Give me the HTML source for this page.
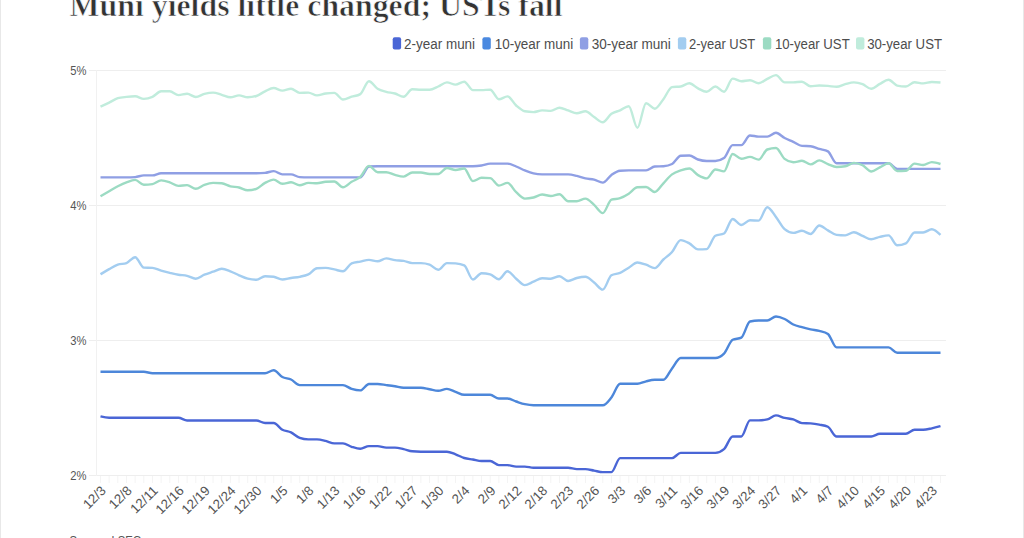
<!DOCTYPE html>
<html><head><meta charset="utf-8"><style>
html,body{margin:0;padding:0;background:#fff;width:1024px;height:538px;overflow:hidden}
svg{position:absolute;left:0;top:0;font-family:"Liberation Sans",sans-serif}
.title{font-family:"Liberation Serif",serif;font-weight:bold}
</style></head><body>
<svg width="1024" height="538" viewBox="0 0 1024 538">
<rect x="0" y="0" width="1024" height="538" fill="#fff"/>
<line x1="0.5" y1="0" x2="0.5" y2="538" stroke="#e8e8e8" stroke-width="1"/>
<line x1="1023.5" y1="0" x2="1023.5" y2="538" stroke="#e8e8e8" stroke-width="1"/>
<text class="title" x="69.5" y="15.6" font-size="32" fill="#333" stroke="#fff" stroke-width="0.7" textLength="493" lengthAdjust="spacingAndGlyphs">Muni yields little changed; USTs fall</text>
<rect x="392.7" y="37.3" width="8.4" height="12.2" rx="2" fill="#4a66d6"/><text x="404.1" y="48.6" font-size="14" fill="#4d4d4d" textLength="71.0" lengthAdjust="spacingAndGlyphs">2-year muni</text>
<rect x="482.4" y="37.3" width="8.4" height="12.2" rx="2" fill="#4a89e0"/><text x="494.7" y="48.6" font-size="14" fill="#4d4d4d" textLength="78.5" lengthAdjust="spacingAndGlyphs">10-year muni</text>
<rect x="579.9" y="37.3" width="8.4" height="12.2" rx="2" fill="#8f9fe4"/><text x="591.7" y="48.6" font-size="14" fill="#4d4d4d" textLength="79.1" lengthAdjust="spacingAndGlyphs">30-year muni</text>
<rect x="677.9" y="37.3" width="8.4" height="12.2" rx="2" fill="#a3cdf0"/><text x="689.0" y="48.6" font-size="14" fill="#4d4d4d" textLength="66.2" lengthAdjust="spacingAndGlyphs">2-year UST</text>
<rect x="762.9" y="37.3" width="8.4" height="12.2" rx="2" fill="#9cdbc3"/><text x="774.9" y="48.6" font-size="14" fill="#4d4d4d" textLength="74.8" lengthAdjust="spacingAndGlyphs">10-year UST</text>
<rect x="856" y="37.3" width="8.4" height="12.2" rx="2" fill="#c0ecdc"/><text x="867.2" y="48.6" font-size="14" fill="#4d4d4d" textLength="74.8" lengthAdjust="spacingAndGlyphs">30-year UST</text>
<line x1="89" y1="70.5" x2="946" y2="70.5" stroke="#eeeeee" stroke-width="1"/>
<text x="70.3" y="75.1" font-size="12.8" fill="#555" textLength="16.2" lengthAdjust="spacingAndGlyphs">5%</text>
<line x1="89" y1="205.5" x2="946" y2="205.5" stroke="#eeeeee" stroke-width="1"/>
<text x="70.3" y="210.1" font-size="12.8" fill="#555" textLength="16.2" lengthAdjust="spacingAndGlyphs">4%</text>
<line x1="89" y1="340.5" x2="946" y2="340.5" stroke="#eeeeee" stroke-width="1"/>
<text x="70.3" y="345.1" font-size="12.8" fill="#555" textLength="16.2" lengthAdjust="spacingAndGlyphs">3%</text>
<line x1="89" y1="475.5" x2="946" y2="475.5" stroke="#eeeeee" stroke-width="1"/>
<text x="70.3" y="480.1" font-size="12.8" fill="#555" textLength="16.2" lengthAdjust="spacingAndGlyphs">2%</text>
<line x1="96.5" y1="70" x2="96.5" y2="476" stroke="#f1f1f1" stroke-width="1"/>
<line x1="100.50" y1="476" x2="100.50" y2="483" stroke="#f4f4f4" stroke-width="1"/>
<line x1="109.16" y1="476" x2="109.16" y2="483" stroke="#f4f4f4" stroke-width="1"/>
<line x1="117.82" y1="476" x2="117.82" y2="483" stroke="#f4f4f4" stroke-width="1"/>
<line x1="126.48" y1="476" x2="126.48" y2="483" stroke="#f4f4f4" stroke-width="1"/>
<line x1="135.14" y1="476" x2="135.14" y2="483" stroke="#f4f4f4" stroke-width="1"/>
<line x1="143.80" y1="476" x2="143.80" y2="483" stroke="#f4f4f4" stroke-width="1"/>
<line x1="152.46" y1="476" x2="152.46" y2="483" stroke="#f4f4f4" stroke-width="1"/>
<line x1="161.12" y1="476" x2="161.12" y2="483" stroke="#f4f4f4" stroke-width="1"/>
<line x1="169.78" y1="476" x2="169.78" y2="483" stroke="#f4f4f4" stroke-width="1"/>
<line x1="178.44" y1="476" x2="178.44" y2="483" stroke="#f4f4f4" stroke-width="1"/>
<line x1="187.10" y1="476" x2="187.10" y2="483" stroke="#f4f4f4" stroke-width="1"/>
<line x1="195.76" y1="476" x2="195.76" y2="483" stroke="#f4f4f4" stroke-width="1"/>
<line x1="204.42" y1="476" x2="204.42" y2="483" stroke="#f4f4f4" stroke-width="1"/>
<line x1="213.08" y1="476" x2="213.08" y2="483" stroke="#f4f4f4" stroke-width="1"/>
<line x1="221.74" y1="476" x2="221.74" y2="483" stroke="#f4f4f4" stroke-width="1"/>
<line x1="230.40" y1="476" x2="230.40" y2="483" stroke="#f4f4f4" stroke-width="1"/>
<line x1="239.06" y1="476" x2="239.06" y2="483" stroke="#f4f4f4" stroke-width="1"/>
<line x1="247.72" y1="476" x2="247.72" y2="483" stroke="#f4f4f4" stroke-width="1"/>
<line x1="256.38" y1="476" x2="256.38" y2="483" stroke="#f4f4f4" stroke-width="1"/>
<line x1="265.04" y1="476" x2="265.04" y2="483" stroke="#f4f4f4" stroke-width="1"/>
<line x1="273.70" y1="476" x2="273.70" y2="483" stroke="#f4f4f4" stroke-width="1"/>
<line x1="282.36" y1="476" x2="282.36" y2="483" stroke="#f4f4f4" stroke-width="1"/>
<line x1="291.02" y1="476" x2="291.02" y2="483" stroke="#f4f4f4" stroke-width="1"/>
<line x1="299.68" y1="476" x2="299.68" y2="483" stroke="#f4f4f4" stroke-width="1"/>
<line x1="308.34" y1="476" x2="308.34" y2="483" stroke="#f4f4f4" stroke-width="1"/>
<line x1="316.99" y1="476" x2="316.99" y2="483" stroke="#f4f4f4" stroke-width="1"/>
<line x1="325.65" y1="476" x2="325.65" y2="483" stroke="#f4f4f4" stroke-width="1"/>
<line x1="334.31" y1="476" x2="334.31" y2="483" stroke="#f4f4f4" stroke-width="1"/>
<line x1="342.97" y1="476" x2="342.97" y2="483" stroke="#f4f4f4" stroke-width="1"/>
<line x1="351.63" y1="476" x2="351.63" y2="483" stroke="#f4f4f4" stroke-width="1"/>
<line x1="360.29" y1="476" x2="360.29" y2="483" stroke="#f4f4f4" stroke-width="1"/>
<line x1="368.95" y1="476" x2="368.95" y2="483" stroke="#f4f4f4" stroke-width="1"/>
<line x1="377.61" y1="476" x2="377.61" y2="483" stroke="#f4f4f4" stroke-width="1"/>
<line x1="386.27" y1="476" x2="386.27" y2="483" stroke="#f4f4f4" stroke-width="1"/>
<line x1="394.93" y1="476" x2="394.93" y2="483" stroke="#f4f4f4" stroke-width="1"/>
<line x1="403.59" y1="476" x2="403.59" y2="483" stroke="#f4f4f4" stroke-width="1"/>
<line x1="412.25" y1="476" x2="412.25" y2="483" stroke="#f4f4f4" stroke-width="1"/>
<line x1="420.91" y1="476" x2="420.91" y2="483" stroke="#f4f4f4" stroke-width="1"/>
<line x1="429.57" y1="476" x2="429.57" y2="483" stroke="#f4f4f4" stroke-width="1"/>
<line x1="438.23" y1="476" x2="438.23" y2="483" stroke="#f4f4f4" stroke-width="1"/>
<line x1="446.89" y1="476" x2="446.89" y2="483" stroke="#f4f4f4" stroke-width="1"/>
<line x1="455.55" y1="476" x2="455.55" y2="483" stroke="#f4f4f4" stroke-width="1"/>
<line x1="464.21" y1="476" x2="464.21" y2="483" stroke="#f4f4f4" stroke-width="1"/>
<line x1="472.87" y1="476" x2="472.87" y2="483" stroke="#f4f4f4" stroke-width="1"/>
<line x1="481.53" y1="476" x2="481.53" y2="483" stroke="#f4f4f4" stroke-width="1"/>
<line x1="490.19" y1="476" x2="490.19" y2="483" stroke="#f4f4f4" stroke-width="1"/>
<line x1="498.85" y1="476" x2="498.85" y2="483" stroke="#f4f4f4" stroke-width="1"/>
<line x1="507.51" y1="476" x2="507.51" y2="483" stroke="#f4f4f4" stroke-width="1"/>
<line x1="516.17" y1="476" x2="516.17" y2="483" stroke="#f4f4f4" stroke-width="1"/>
<line x1="524.83" y1="476" x2="524.83" y2="483" stroke="#f4f4f4" stroke-width="1"/>
<line x1="533.49" y1="476" x2="533.49" y2="483" stroke="#f4f4f4" stroke-width="1"/>
<line x1="542.15" y1="476" x2="542.15" y2="483" stroke="#f4f4f4" stroke-width="1"/>
<line x1="550.81" y1="476" x2="550.81" y2="483" stroke="#f4f4f4" stroke-width="1"/>
<line x1="559.47" y1="476" x2="559.47" y2="483" stroke="#f4f4f4" stroke-width="1"/>
<line x1="568.13" y1="476" x2="568.13" y2="483" stroke="#f4f4f4" stroke-width="1"/>
<line x1="576.79" y1="476" x2="576.79" y2="483" stroke="#f4f4f4" stroke-width="1"/>
<line x1="585.45" y1="476" x2="585.45" y2="483" stroke="#f4f4f4" stroke-width="1"/>
<line x1="594.11" y1="476" x2="594.11" y2="483" stroke="#f4f4f4" stroke-width="1"/>
<line x1="602.77" y1="476" x2="602.77" y2="483" stroke="#f4f4f4" stroke-width="1"/>
<line x1="611.43" y1="476" x2="611.43" y2="483" stroke="#f4f4f4" stroke-width="1"/>
<line x1="620.09" y1="476" x2="620.09" y2="483" stroke="#f4f4f4" stroke-width="1"/>
<line x1="628.75" y1="476" x2="628.75" y2="483" stroke="#f4f4f4" stroke-width="1"/>
<line x1="637.41" y1="476" x2="637.41" y2="483" stroke="#f4f4f4" stroke-width="1"/>
<line x1="646.07" y1="476" x2="646.07" y2="483" stroke="#f4f4f4" stroke-width="1"/>
<line x1="654.73" y1="476" x2="654.73" y2="483" stroke="#f4f4f4" stroke-width="1"/>
<line x1="663.39" y1="476" x2="663.39" y2="483" stroke="#f4f4f4" stroke-width="1"/>
<line x1="672.05" y1="476" x2="672.05" y2="483" stroke="#f4f4f4" stroke-width="1"/>
<line x1="680.71" y1="476" x2="680.71" y2="483" stroke="#f4f4f4" stroke-width="1"/>
<line x1="689.37" y1="476" x2="689.37" y2="483" stroke="#f4f4f4" stroke-width="1"/>
<line x1="698.03" y1="476" x2="698.03" y2="483" stroke="#f4f4f4" stroke-width="1"/>
<line x1="706.69" y1="476" x2="706.69" y2="483" stroke="#f4f4f4" stroke-width="1"/>
<line x1="715.35" y1="476" x2="715.35" y2="483" stroke="#f4f4f4" stroke-width="1"/>
<line x1="724.01" y1="476" x2="724.01" y2="483" stroke="#f4f4f4" stroke-width="1"/>
<line x1="732.66" y1="476" x2="732.66" y2="483" stroke="#f4f4f4" stroke-width="1"/>
<line x1="741.32" y1="476" x2="741.32" y2="483" stroke="#f4f4f4" stroke-width="1"/>
<line x1="749.98" y1="476" x2="749.98" y2="483" stroke="#f4f4f4" stroke-width="1"/>
<line x1="758.64" y1="476" x2="758.64" y2="483" stroke="#f4f4f4" stroke-width="1"/>
<line x1="767.30" y1="476" x2="767.30" y2="483" stroke="#f4f4f4" stroke-width="1"/>
<line x1="775.96" y1="476" x2="775.96" y2="483" stroke="#f4f4f4" stroke-width="1"/>
<line x1="784.62" y1="476" x2="784.62" y2="483" stroke="#f4f4f4" stroke-width="1"/>
<line x1="793.28" y1="476" x2="793.28" y2="483" stroke="#f4f4f4" stroke-width="1"/>
<line x1="801.94" y1="476" x2="801.94" y2="483" stroke="#f4f4f4" stroke-width="1"/>
<line x1="810.60" y1="476" x2="810.60" y2="483" stroke="#f4f4f4" stroke-width="1"/>
<line x1="819.26" y1="476" x2="819.26" y2="483" stroke="#f4f4f4" stroke-width="1"/>
<line x1="827.92" y1="476" x2="827.92" y2="483" stroke="#f4f4f4" stroke-width="1"/>
<line x1="836.58" y1="476" x2="836.58" y2="483" stroke="#f4f4f4" stroke-width="1"/>
<line x1="845.24" y1="476" x2="845.24" y2="483" stroke="#f4f4f4" stroke-width="1"/>
<line x1="853.90" y1="476" x2="853.90" y2="483" stroke="#f4f4f4" stroke-width="1"/>
<line x1="862.56" y1="476" x2="862.56" y2="483" stroke="#f4f4f4" stroke-width="1"/>
<line x1="871.22" y1="476" x2="871.22" y2="483" stroke="#f4f4f4" stroke-width="1"/>
<line x1="879.88" y1="476" x2="879.88" y2="483" stroke="#f4f4f4" stroke-width="1"/>
<line x1="888.54" y1="476" x2="888.54" y2="483" stroke="#f4f4f4" stroke-width="1"/>
<line x1="897.20" y1="476" x2="897.20" y2="483" stroke="#f4f4f4" stroke-width="1"/>
<line x1="905.86" y1="476" x2="905.86" y2="483" stroke="#f4f4f4" stroke-width="1"/>
<line x1="914.52" y1="476" x2="914.52" y2="483" stroke="#f4f4f4" stroke-width="1"/>
<line x1="923.18" y1="476" x2="923.18" y2="483" stroke="#f4f4f4" stroke-width="1"/>
<line x1="931.84" y1="476" x2="931.84" y2="483" stroke="#f4f4f4" stroke-width="1"/>
<line x1="940.50" y1="476" x2="940.50" y2="483" stroke="#f4f4f4" stroke-width="1"/>
<text transform="translate(106.70,491.5) rotate(-45)" text-anchor="end" font-size="13.3" fill="#555">12/3</text>
<text transform="translate(132.68,491.5) rotate(-45)" text-anchor="end" font-size="13.3" fill="#555">12/8</text>
<text transform="translate(158.66,491.5) rotate(-45)" text-anchor="end" font-size="13.3" fill="#555">12/11</text>
<text transform="translate(184.64,491.5) rotate(-45)" text-anchor="end" font-size="13.3" fill="#555">12/16</text>
<text transform="translate(210.62,491.5) rotate(-45)" text-anchor="end" font-size="13.3" fill="#555">12/19</text>
<text transform="translate(236.60,491.5) rotate(-45)" text-anchor="end" font-size="13.3" fill="#555">12/24</text>
<text transform="translate(262.58,491.5) rotate(-45)" text-anchor="end" font-size="13.3" fill="#555">12/30</text>
<text transform="translate(288.56,491.5) rotate(-45)" text-anchor="end" font-size="13.3" fill="#555">1/5</text>
<text transform="translate(314.54,491.5) rotate(-45)" text-anchor="end" font-size="13.3" fill="#555">1/8</text>
<text transform="translate(340.51,491.5) rotate(-45)" text-anchor="end" font-size="13.3" fill="#555">1/13</text>
<text transform="translate(366.49,491.5) rotate(-45)" text-anchor="end" font-size="13.3" fill="#555">1/16</text>
<text transform="translate(392.47,491.5) rotate(-45)" text-anchor="end" font-size="13.3" fill="#555">1/22</text>
<text transform="translate(418.45,491.5) rotate(-45)" text-anchor="end" font-size="13.3" fill="#555">1/27</text>
<text transform="translate(444.43,491.5) rotate(-45)" text-anchor="end" font-size="13.3" fill="#555">1/30</text>
<text transform="translate(470.41,491.5) rotate(-45)" text-anchor="end" font-size="13.3" fill="#555">2/4</text>
<text transform="translate(496.39,491.5) rotate(-45)" text-anchor="end" font-size="13.3" fill="#555">2/9</text>
<text transform="translate(522.37,491.5) rotate(-45)" text-anchor="end" font-size="13.3" fill="#555">2/12</text>
<text transform="translate(548.35,491.5) rotate(-45)" text-anchor="end" font-size="13.3" fill="#555">2/18</text>
<text transform="translate(574.33,491.5) rotate(-45)" text-anchor="end" font-size="13.3" fill="#555">2/23</text>
<text transform="translate(600.31,491.5) rotate(-45)" text-anchor="end" font-size="13.3" fill="#555">2/26</text>
<text transform="translate(626.29,491.5) rotate(-45)" text-anchor="end" font-size="13.3" fill="#555">3/3</text>
<text transform="translate(652.27,491.5) rotate(-45)" text-anchor="end" font-size="13.3" fill="#555">3/6</text>
<text transform="translate(678.25,491.5) rotate(-45)" text-anchor="end" font-size="13.3" fill="#555">3/11</text>
<text transform="translate(704.23,491.5) rotate(-45)" text-anchor="end" font-size="13.3" fill="#555">3/16</text>
<text transform="translate(730.21,491.5) rotate(-45)" text-anchor="end" font-size="13.3" fill="#555">3/19</text>
<text transform="translate(756.18,491.5) rotate(-45)" text-anchor="end" font-size="13.3" fill="#555">3/24</text>
<text transform="translate(782.16,491.5) rotate(-45)" text-anchor="end" font-size="13.3" fill="#555">3/27</text>
<text transform="translate(808.14,491.5) rotate(-45)" text-anchor="end" font-size="13.3" fill="#555">4/1</text>
<text transform="translate(834.12,491.5) rotate(-45)" text-anchor="end" font-size="13.3" fill="#555">4/7</text>
<text transform="translate(860.10,491.5) rotate(-45)" text-anchor="end" font-size="13.3" fill="#555">4/10</text>
<text transform="translate(886.08,491.5) rotate(-45)" text-anchor="end" font-size="13.3" fill="#555">4/15</text>
<text transform="translate(912.06,491.5) rotate(-45)" text-anchor="end" font-size="13.3" fill="#555">4/20</text>
<text transform="translate(938.04,491.5) rotate(-45)" text-anchor="end" font-size="13.3" fill="#555">4/23</text>
<path d="M100.50,416.40C103.39,417.10,106.27,417.80,109.16,417.80C112.05,417.80,114.93,417.80,117.82,417.80C120.71,417.80,123.59,417.80,126.48,417.80C129.37,417.80,132.25,417.80,135.14,417.80C138.03,417.80,140.91,417.80,143.80,417.80C146.69,417.80,149.57,417.80,152.46,417.80C155.35,417.80,158.23,417.80,161.12,417.80C164.01,417.80,166.89,417.80,169.78,417.80C172.66,417.80,175.55,417.80,178.44,417.80C181.32,417.80,184.21,420.50,187.10,420.50C189.98,420.50,192.87,420.50,195.76,420.50C198.64,420.50,201.53,420.50,204.42,420.50C207.30,420.50,210.19,420.50,213.08,420.50C215.96,420.50,218.85,420.50,221.74,420.50C224.62,420.50,227.51,420.50,230.40,420.50C233.28,420.50,236.17,420.50,239.06,420.50C241.94,420.50,244.83,420.50,247.72,420.50C250.60,420.50,253.49,420.50,256.38,420.50C259.26,420.50,262.15,423.00,265.04,423.00C267.92,423.00,270.81,423.00,273.70,423.00C276.58,423.00,279.47,428.13,282.36,429.70C285.24,431.27,288.13,431.03,291.02,432.40C293.90,433.77,296.79,436.90,299.68,437.90C302.56,438.90,305.45,439.40,308.34,439.40C311.22,439.40,314.11,439.40,316.99,439.40C319.88,439.40,322.77,440.23,325.65,440.90C328.54,441.57,331.43,443.40,334.31,443.40C337.20,443.40,340.09,443.40,342.97,443.40C345.86,443.40,348.75,445.90,351.63,446.80C354.52,447.70,357.41,448.80,360.29,448.80C363.18,448.80,366.07,446.10,368.95,446.10C371.84,446.10,374.73,446.10,377.61,446.10C380.50,446.10,383.39,447.60,386.27,447.60C389.16,447.60,392.05,447.60,394.93,447.60C397.82,447.60,400.71,448.48,403.59,449.10C406.48,449.72,409.37,451.03,412.25,451.30C415.14,451.57,418.03,451.70,420.91,451.70C423.80,451.70,426.69,451.70,429.57,451.70C432.46,451.70,435.35,451.70,438.23,451.70C441.12,451.70,444.01,451.70,446.89,451.70C449.78,451.70,452.66,453.25,455.55,454.30C458.44,455.35,461.32,457.13,464.21,458.00C467.10,458.87,469.98,459.00,472.87,459.50C475.76,460.00,478.64,461.00,481.53,461.00C484.42,461.00,487.30,461.00,490.19,461.00C493.08,461.00,495.96,465.10,498.85,465.10C501.74,465.10,504.62,465.10,507.51,465.10C510.40,465.10,513.28,466.60,516.17,466.60C519.06,466.60,521.94,466.60,524.83,466.60C527.72,466.60,530.60,467.70,533.49,467.70C536.38,467.70,539.26,467.70,542.15,467.70C545.04,467.70,547.92,467.70,550.81,467.70C553.70,467.70,556.58,467.70,559.47,467.70C562.36,467.70,565.24,467.70,568.13,467.70C571.02,467.70,573.90,469.10,576.79,469.10C579.68,469.10,582.56,469.10,585.45,469.10C588.34,469.10,591.22,470.10,594.11,470.60C596.99,471.10,599.88,472.10,602.77,472.10C605.65,472.10,608.54,472.10,611.43,472.10C614.31,472.10,617.20,458.10,620.09,458.10C622.97,458.10,625.86,458.10,628.75,458.10C631.63,458.10,634.52,458.10,637.41,458.10C640.29,458.10,643.18,458.10,646.07,458.10C648.95,458.10,651.84,458.10,654.73,458.10C657.61,458.10,660.50,458.10,663.39,458.10C666.27,458.10,669.16,458.10,672.05,458.10C674.93,458.10,677.82,452.90,680.71,452.90C683.59,452.90,686.48,452.90,689.37,452.90C692.25,452.90,695.14,452.90,698.03,452.90C700.91,452.90,703.80,452.90,706.69,452.90C709.57,452.90,712.46,452.90,715.35,452.90C718.23,452.90,721.12,451.63,724.01,449.10C726.89,446.57,729.78,436.50,732.66,436.50C735.55,436.50,738.44,436.50,741.32,436.50C744.21,436.50,747.10,420.40,749.98,420.40C752.87,420.40,755.76,420.40,758.64,420.40C761.53,420.40,764.42,420.07,767.30,419.40C770.19,418.73,773.08,415.40,775.96,415.40C778.85,415.40,781.74,417.23,784.62,417.90C787.51,418.57,790.40,418.53,793.28,419.40C796.17,420.27,799.06,422.90,801.94,423.10C804.83,423.30,807.72,423.20,810.60,423.40C813.49,423.60,816.38,424.03,819.26,424.60C822.15,425.17,825.04,425.33,827.92,426.80C830.81,428.27,833.70,436.50,836.58,436.50C839.47,436.50,842.36,436.50,845.24,436.50C848.13,436.50,851.02,436.50,853.90,436.50C856.79,436.50,859.68,436.50,862.56,436.50C865.45,436.50,868.34,436.50,871.22,436.50C874.11,436.50,876.99,433.80,879.88,433.80C882.77,433.80,885.65,433.80,888.54,433.80C891.43,433.80,894.31,433.80,897.20,433.80C900.09,433.80,902.97,433.80,905.86,433.80C908.75,433.80,911.63,429.80,914.52,429.80C917.41,429.80,920.29,429.80,923.18,429.80C926.07,429.80,928.95,428.92,931.84,428.30C934.73,427.68,937.61,426.89,940.50,426.10" fill="none" stroke="#4a66d6" stroke-width="2.4" stroke-linejoin="round" stroke-linecap="butt"/>
<path d="M100.50,371.80C103.39,371.80,106.27,371.80,109.16,371.80C112.05,371.80,114.93,371.80,117.82,371.80C120.71,371.80,123.59,371.80,126.48,371.80C129.37,371.80,132.25,371.80,135.14,371.80C138.03,371.80,140.91,371.80,143.80,371.80C146.69,371.80,149.57,373.20,152.46,373.20C155.35,373.20,158.23,373.20,161.12,373.20C164.01,373.20,166.89,373.20,169.78,373.20C172.66,373.20,175.55,373.20,178.44,373.20C181.32,373.20,184.21,373.20,187.10,373.20C189.98,373.20,192.87,373.20,195.76,373.20C198.64,373.20,201.53,373.20,204.42,373.20C207.30,373.20,210.19,373.20,213.08,373.20C215.96,373.20,218.85,373.20,221.74,373.20C224.62,373.20,227.51,373.20,230.40,373.20C233.28,373.20,236.17,373.20,239.06,373.20C241.94,373.20,244.83,373.20,247.72,373.20C250.60,373.20,253.49,373.20,256.38,373.20C259.26,373.20,262.15,373.20,265.04,373.20C267.92,373.20,270.81,370.30,273.70,370.30C276.58,370.30,279.47,375.47,282.36,377.00C285.24,378.53,288.13,378.15,291.02,379.50C293.90,380.85,296.79,385.10,299.68,385.10C302.56,385.10,305.45,385.10,308.34,385.10C311.22,385.10,314.11,385.10,316.99,385.10C319.88,385.10,322.77,385.10,325.65,385.10C328.54,385.10,331.43,385.10,334.31,385.10C337.20,385.10,340.09,385.10,342.97,385.10C345.86,385.10,348.75,388.02,351.63,388.90C354.52,389.78,357.41,390.40,360.29,390.40C363.18,390.40,366.07,384.00,368.95,384.00C371.84,384.00,374.73,384.00,377.61,384.00C380.50,384.00,383.39,384.72,386.27,385.10C389.16,385.48,392.05,385.85,394.93,386.30C397.82,386.75,400.71,387.80,403.59,387.80C406.48,387.80,409.37,387.80,412.25,387.80C415.14,387.80,418.03,387.80,420.91,387.80C423.80,387.80,426.69,388.80,429.57,389.30C432.46,389.80,435.35,390.80,438.23,390.80C441.12,390.80,444.01,388.90,446.89,388.90C449.78,388.90,452.66,390.82,455.55,391.80C458.44,392.78,461.32,394.80,464.21,394.80C467.10,394.80,469.98,394.80,472.87,394.80C475.76,394.80,478.64,394.80,481.53,394.80C484.42,394.80,487.30,394.80,490.19,394.80C493.08,394.80,495.96,398.50,498.85,398.50C501.74,398.50,504.62,398.50,507.51,398.50C510.40,398.50,513.28,400.55,516.17,401.50C519.06,402.45,521.94,403.57,524.83,404.20C527.72,404.83,530.60,405.30,533.49,405.30C536.38,405.30,539.26,405.30,542.15,405.30C545.04,405.30,547.92,405.30,550.81,405.30C553.70,405.30,556.58,405.30,559.47,405.30C562.36,405.30,565.24,405.30,568.13,405.30C571.02,405.30,573.90,405.30,576.79,405.30C579.68,405.30,582.56,405.30,585.45,405.30C588.34,405.30,591.22,405.30,594.11,405.30C596.99,405.30,599.88,405.30,602.77,405.30C605.65,405.30,608.54,401.08,611.43,397.50C614.31,393.92,617.20,383.80,620.09,383.80C622.97,383.80,625.86,383.80,628.75,383.80C631.63,383.80,634.52,383.80,637.41,383.80C640.29,383.80,643.18,381.97,646.07,381.30C648.95,380.63,651.84,379.80,654.73,379.80C657.61,379.80,660.50,379.80,663.39,379.80C666.27,379.80,669.16,372.03,672.05,368.40C674.93,364.77,677.82,358.00,680.71,358.00C683.59,358.00,686.48,358.00,689.37,358.00C692.25,358.00,695.14,358.00,698.03,358.00C700.91,358.00,703.80,358.00,706.69,358.00C709.57,358.00,712.46,358.00,715.35,358.00C718.23,358.00,721.12,356.53,724.01,353.60C726.89,350.67,729.78,341.27,732.66,339.80C735.55,338.33,738.44,339.07,741.32,337.60C744.21,336.13,747.10,322.17,749.98,321.50C752.87,320.83,755.76,320.50,758.64,320.50C761.53,320.50,764.42,320.50,767.30,320.50C770.19,320.50,773.08,316.50,775.96,316.50C778.85,316.50,781.74,317.67,784.62,319.00C787.51,320.33,790.40,323.13,793.28,324.50C796.17,325.87,799.06,326.38,801.94,327.20C804.83,328.02,807.72,328.78,810.60,329.40C813.49,330.02,816.38,330.15,819.26,330.90C822.15,331.65,825.04,331.90,827.92,333.90C830.81,335.90,833.70,347.40,836.58,347.40C839.47,347.40,842.36,347.40,845.24,347.40C848.13,347.40,851.02,347.40,853.90,347.40C856.79,347.40,859.68,347.40,862.56,347.40C865.45,347.40,868.34,347.40,871.22,347.40C874.11,347.40,876.99,347.40,879.88,347.40C882.77,347.40,885.65,347.40,888.54,347.40C891.43,347.40,894.31,352.80,897.20,352.80C900.09,352.80,902.97,352.80,905.86,352.80C908.75,352.80,911.63,352.80,914.52,352.80C917.41,352.80,920.29,352.80,923.18,352.80C926.07,352.80,928.95,352.80,931.84,352.80C934.73,352.80,937.61,352.80,940.50,352.80" fill="none" stroke="#4d87da" stroke-width="2.4" stroke-linejoin="round" stroke-linecap="butt"/>
<path d="M100.50,177.40C103.39,177.40,106.27,177.40,109.16,177.40C112.05,177.40,114.93,177.40,117.82,177.40C120.71,177.40,123.59,177.40,126.48,177.40C129.37,177.40,132.25,177.30,135.14,177.10C138.03,176.90,140.91,175.40,143.80,175.40C146.69,175.40,149.57,175.40,152.46,175.40C155.35,175.40,158.23,173.20,161.12,173.20C164.01,173.20,166.89,173.20,169.78,173.20C172.66,173.20,175.55,173.20,178.44,173.20C181.32,173.20,184.21,173.20,187.10,173.20C189.98,173.20,192.87,173.20,195.76,173.20C198.64,173.20,201.53,173.20,204.42,173.20C207.30,173.20,210.19,173.20,213.08,173.20C215.96,173.20,218.85,173.20,221.74,173.20C224.62,173.20,227.51,173.20,230.40,173.20C233.28,173.20,236.17,173.20,239.06,173.20C241.94,173.20,244.83,173.20,247.72,173.20C250.60,173.20,253.49,173.20,256.38,173.20C259.26,173.20,262.15,173.10,265.04,172.90C267.92,172.70,270.81,171.10,273.70,171.10C276.58,171.10,279.47,174.40,282.36,174.40C285.24,174.40,288.13,174.40,291.02,174.40C293.90,174.40,296.79,176.90,299.68,177.10C302.56,177.30,305.45,177.40,308.34,177.40C311.22,177.40,314.11,177.40,316.99,177.40C319.88,177.40,322.77,177.40,325.65,177.40C328.54,177.40,331.43,177.40,334.31,177.40C337.20,177.40,340.09,177.40,342.97,177.40C345.86,177.40,348.75,177.40,351.63,177.40C354.52,177.40,357.41,177.40,360.29,177.40C363.18,177.40,366.07,166.70,368.95,166.50C371.84,166.30,374.73,166.20,377.61,166.20C380.50,166.20,383.39,166.20,386.27,166.20C389.16,166.20,392.05,166.20,394.93,166.20C397.82,166.20,400.71,166.20,403.59,166.20C406.48,166.20,409.37,166.20,412.25,166.20C415.14,166.20,418.03,166.20,420.91,166.20C423.80,166.20,426.69,166.20,429.57,166.20C432.46,166.20,435.35,166.20,438.23,166.20C441.12,166.20,444.01,166.20,446.89,166.20C449.78,166.20,452.66,166.20,455.55,166.20C458.44,166.20,461.32,166.20,464.21,166.20C467.10,166.20,469.98,166.20,472.87,166.20C475.76,166.20,478.64,165.93,481.53,165.50C484.42,165.07,487.30,163.60,490.19,163.60C493.08,163.60,495.96,163.60,498.85,163.60C501.74,163.60,504.62,163.60,507.51,163.60C510.40,163.60,513.28,165.37,516.17,166.50C519.06,167.63,521.94,169.25,524.83,170.40C527.72,171.55,530.60,172.73,533.49,173.40C536.38,174.07,539.26,174.40,542.15,174.40C545.04,174.40,547.92,174.40,550.81,174.40C553.70,174.40,556.58,174.40,559.47,174.40C562.36,174.40,565.24,174.40,568.13,174.40C571.02,174.40,573.90,175.23,576.79,175.90C579.68,176.57,582.56,177.78,585.45,178.40C588.34,179.02,591.22,178.90,594.11,179.60C596.99,180.30,599.88,182.60,602.77,182.60C605.65,182.60,608.54,176.88,611.43,174.90C614.31,172.92,617.20,170.90,620.09,170.70C622.97,170.50,625.86,170.40,628.75,170.40C631.63,170.40,634.52,170.40,637.41,170.40C640.29,170.40,643.18,170.40,646.07,170.40C648.95,170.40,651.84,166.70,654.73,166.50C657.61,166.30,660.50,166.40,663.39,166.20C666.27,166.00,669.16,165.47,672.05,164.00C674.93,162.53,677.82,156.00,680.71,155.80C683.59,155.60,686.48,155.50,689.37,155.50C692.25,155.50,695.14,158.58,698.03,159.50C700.91,160.42,703.80,161.00,706.69,161.00C709.57,161.00,712.46,161.00,715.35,161.00C718.23,161.00,721.12,160.00,724.01,158.00C726.89,156.00,729.78,145.10,732.66,145.10C735.55,145.10,738.44,145.10,741.32,145.10C744.21,145.10,747.10,135.50,749.98,135.50C752.87,135.50,755.76,136.60,758.64,136.60C761.53,136.60,764.42,136.60,767.30,136.60C770.19,136.60,773.08,132.80,775.96,132.80C778.85,132.80,781.74,136.50,784.62,138.00C787.51,139.50,790.40,140.48,793.28,141.80C796.17,143.12,799.06,145.70,801.94,145.90C804.83,146.10,807.72,146.00,810.60,146.20C813.49,146.40,816.38,148.03,819.26,148.90C822.15,149.77,825.04,149.73,827.92,151.40C830.81,153.07,833.70,163.30,836.58,163.30C839.47,163.30,842.36,163.30,845.24,163.30C848.13,163.30,851.02,163.30,853.90,163.30C856.79,163.30,859.68,163.30,862.56,163.30C865.45,163.30,868.34,163.30,871.22,163.30C874.11,163.30,876.99,163.30,879.88,163.30C882.77,163.30,885.65,163.30,888.54,163.30C891.43,163.30,894.31,168.90,897.20,168.90C900.09,168.90,902.97,168.90,905.86,168.90C908.75,168.90,911.63,168.90,914.52,168.90C917.41,168.90,920.29,168.90,923.18,168.90C926.07,168.90,928.95,168.90,931.84,168.90C934.73,168.90,937.61,168.90,940.50,168.90" fill="none" stroke="#8f9fe4" stroke-width="2.4" stroke-linejoin="round" stroke-linecap="butt"/>
<path d="M100.50,274.30C103.39,272.51,106.27,270.72,109.16,269.10C112.05,267.48,114.93,265.60,117.82,264.60C120.71,263.60,123.59,264.10,126.48,263.10C129.37,262.10,132.25,257.20,135.14,257.20C138.03,257.20,140.91,267.40,143.80,267.60C146.69,267.80,149.57,267.70,152.46,267.90C155.35,268.10,158.23,269.78,161.12,270.60C164.01,271.42,166.89,272.12,169.78,272.80C172.66,273.48,175.55,274.20,178.44,274.70C181.32,275.20,184.21,275.13,187.10,275.80C189.98,276.47,192.87,278.70,195.76,278.70C198.64,278.70,201.53,275.87,204.42,274.70C207.30,273.53,210.19,272.68,213.08,271.70C215.96,270.72,218.85,268.80,221.74,268.80C224.62,268.80,227.51,270.22,230.40,271.30C233.28,272.38,236.17,274.07,239.06,275.30C241.94,276.53,244.83,277.97,247.72,278.70C250.60,279.43,253.49,279.80,256.38,279.80C259.26,279.80,262.15,276.20,265.04,276.20C267.92,276.20,270.81,276.40,273.70,276.80C276.58,277.20,279.47,279.50,282.36,279.50C285.24,279.50,288.13,278.45,291.02,278.00C293.90,277.55,296.79,277.42,299.68,276.80C302.56,276.18,305.45,275.72,308.34,274.30C311.22,272.88,314.11,268.57,316.99,268.30C319.88,268.03,322.77,267.90,325.65,267.90C328.54,267.90,331.43,268.83,334.31,269.40C337.20,269.97,340.09,271.30,342.97,271.30C345.86,271.30,348.75,264.60,351.63,263.40C354.52,262.20,357.41,262.18,360.29,261.60C363.18,261.02,366.07,259.90,368.95,259.90C371.84,259.90,374.73,261.30,377.61,261.30C380.50,261.30,383.39,258.40,386.27,258.40C389.16,258.40,392.05,259.68,394.93,260.10C397.82,260.52,400.71,260.40,403.59,260.90C406.48,261.40,409.37,263.10,412.25,263.10C415.14,263.10,418.03,263.10,420.91,263.10C423.80,263.10,426.69,263.60,429.57,264.60C432.46,265.60,435.35,269.80,438.23,269.80C441.12,269.80,444.01,263.10,446.89,263.10C449.78,263.10,452.66,263.20,455.55,263.40C458.44,263.60,461.32,264.07,464.21,265.40C467.10,266.73,469.98,279.50,472.87,279.50C475.76,279.50,478.64,273.20,481.53,273.20C484.42,273.20,487.30,273.57,490.19,274.30C493.08,275.03,495.96,279.20,498.85,279.20C501.74,279.20,504.62,271.30,507.51,271.30C510.40,271.30,513.28,276.40,516.17,278.70C519.06,281.00,521.94,285.10,524.83,285.10C527.72,285.10,530.60,282.83,533.49,281.70C536.38,280.57,539.26,278.30,542.15,278.30C545.04,278.30,547.92,278.70,550.81,278.70C553.70,278.70,556.58,276.20,559.47,276.20C562.36,276.20,565.24,281.00,568.13,281.00C571.02,281.00,573.90,278.70,576.79,278.00C579.68,277.30,582.56,276.80,585.45,276.80C588.34,276.80,591.22,280.37,594.11,282.50C596.99,284.63,599.88,289.60,602.77,289.60C605.65,289.60,608.54,276.90,611.43,275.30C614.31,273.70,617.20,274.17,620.09,272.90C622.97,271.63,625.86,269.43,628.75,267.70C631.63,265.97,634.52,262.50,637.41,262.50C640.29,262.50,643.18,263.77,646.07,264.70C648.95,265.63,651.84,268.10,654.73,268.10C657.61,268.10,660.50,262.18,663.39,259.50C666.27,256.82,669.16,255.23,672.05,252.00C674.93,248.77,677.82,240.10,680.71,240.10C683.59,240.10,686.48,241.85,689.37,243.40C692.25,244.95,695.14,249.40,698.03,249.40C700.91,249.40,703.80,249.30,706.69,249.10C709.57,248.90,712.46,237.17,715.35,235.70C718.23,234.23,721.12,234.97,724.01,233.50C726.89,232.03,729.78,219.00,732.66,219.00C735.55,219.00,738.44,225.00,741.32,225.00C744.21,225.00,747.10,220.30,749.98,220.30C752.87,220.30,755.76,220.60,758.64,220.60C761.53,220.60,764.42,207.20,767.30,207.20C770.19,207.20,773.08,213.33,775.96,217.00C778.85,220.67,781.74,226.73,784.62,229.20C787.51,231.67,790.40,232.90,793.28,232.90C796.17,232.90,799.06,230.70,801.94,230.70C804.83,230.70,807.72,234.00,810.60,234.00C813.49,234.00,816.38,225.50,819.26,225.50C822.15,225.50,825.04,228.83,827.92,230.40C830.81,231.97,833.70,234.57,836.58,234.90C839.47,235.23,842.36,235.40,845.24,235.40C848.13,235.40,851.02,232.20,853.90,232.20C856.79,232.20,859.68,234.72,862.56,235.90C865.45,237.08,868.34,239.30,871.22,239.30C874.11,239.30,876.99,237.55,879.88,236.90C882.77,236.25,885.65,235.40,888.54,235.40C891.43,235.40,894.31,245.30,897.20,245.30C900.09,245.30,902.97,244.63,905.86,243.30C908.75,241.97,911.63,232.50,914.52,232.50C917.41,232.50,920.29,232.50,923.18,232.50C926.07,232.50,928.95,229.20,931.84,229.20C934.73,229.20,937.61,232.05,940.50,234.90" fill="none" stroke="#a3cdf0" stroke-width="2.4" stroke-linejoin="round" stroke-linecap="butt"/>
<path d="M100.50,196.30C103.39,194.58,106.27,192.87,109.16,191.20C112.05,189.53,114.93,187.78,117.82,186.30C120.71,184.82,123.59,183.37,126.48,182.30C129.37,181.23,132.25,179.90,135.14,179.90C138.03,179.90,140.91,184.80,143.80,184.80C146.69,184.80,149.57,184.57,152.46,184.10C155.35,183.63,158.23,180.40,161.12,180.40C164.01,180.40,166.89,181.38,169.78,182.30C172.66,183.22,175.55,185.90,178.44,185.90C181.32,185.90,184.21,185.10,187.10,185.10C189.98,185.10,192.87,188.80,195.76,188.80C198.64,188.80,201.53,185.78,204.42,184.80C207.30,183.82,210.19,182.90,213.08,182.90C215.96,182.90,218.85,183.03,221.74,183.30C224.62,183.57,227.51,185.60,230.40,186.30C233.28,187.00,236.17,186.83,239.06,187.50C241.94,188.17,244.83,190.30,247.72,190.30C250.60,190.30,253.49,189.80,256.38,188.80C259.26,187.80,262.15,184.43,265.04,182.90C267.92,181.37,270.81,179.60,273.70,179.60C276.58,179.60,279.47,183.80,282.36,183.80C285.24,183.80,288.13,182.30,291.02,182.30C293.90,182.30,296.79,185.30,299.68,185.30C302.56,185.30,305.45,182.90,308.34,182.90C311.22,182.90,314.11,183.30,316.99,183.30C319.88,183.30,322.77,182.00,325.65,181.80C328.54,181.60,331.43,181.50,334.31,181.50C337.20,181.50,340.09,187.30,342.97,187.30C345.86,187.30,348.75,183.53,351.63,181.80C354.52,180.07,357.41,179.55,360.29,176.90C363.18,174.25,366.07,165.90,368.95,165.90C371.84,165.90,374.73,172.20,377.61,172.20C380.50,172.20,383.39,172.20,386.27,172.20C389.16,172.20,392.05,174.17,394.93,174.90C397.82,175.63,400.71,176.60,403.59,176.60C406.48,176.60,409.37,172.50,412.25,172.50C415.14,172.50,418.03,172.50,420.91,172.50C423.80,172.50,426.69,174.00,429.57,174.00C432.46,174.00,435.35,174.00,438.23,174.00C441.12,174.00,444.01,168.00,446.89,168.00C449.78,168.00,452.66,170.00,455.55,170.00C458.44,170.00,461.32,168.50,464.21,168.50C467.10,168.50,469.98,181.10,472.87,181.10C475.76,181.10,478.64,177.80,481.53,177.80C484.42,177.80,487.30,177.90,490.19,178.10C493.08,178.30,495.96,185.60,498.85,185.60C501.74,185.60,504.62,182.90,507.51,182.90C510.40,182.90,513.28,189.58,516.17,192.20C519.06,194.82,521.94,198.60,524.83,198.60C527.72,198.60,530.60,198.18,533.49,197.50C536.38,196.82,539.26,194.50,542.15,194.50C545.04,194.50,547.92,196.00,550.81,196.00C553.70,196.00,556.58,194.20,559.47,194.20C562.36,194.20,565.24,201.20,568.13,201.20C571.02,201.20,573.90,201.20,576.79,201.20C579.68,201.20,582.56,198.60,585.45,198.60C588.34,198.60,591.22,202.48,594.11,204.90C596.99,207.32,599.88,213.10,602.77,213.10C605.65,213.10,608.54,200.70,611.43,199.70C614.31,198.70,617.20,199.20,620.09,198.20C622.97,197.20,625.86,195.52,628.75,193.70C631.63,191.88,634.52,187.50,637.41,187.30C640.29,187.10,643.18,187.00,646.07,187.00C648.95,187.00,651.84,192.00,654.73,192.00C657.61,192.00,660.50,186.23,663.39,183.30C666.27,180.37,669.16,176.55,672.05,174.40C674.93,172.25,677.82,171.38,680.71,170.40C683.59,169.42,686.48,168.50,689.37,168.50C692.25,168.50,695.14,173.45,698.03,175.10C700.91,176.75,703.80,178.40,706.69,178.40C709.57,178.40,712.46,169.50,715.35,169.50C718.23,169.50,721.12,171.40,724.01,171.40C726.89,171.40,729.78,154.00,732.66,154.00C735.55,154.00,738.44,158.80,741.32,158.80C744.21,158.80,747.10,156.90,749.98,156.90C752.87,156.90,755.76,159.60,758.64,159.60C761.53,159.60,764.42,150.50,767.30,149.50C770.19,148.50,773.08,148.00,775.96,148.00C778.85,148.00,781.74,156.63,784.62,158.90C787.51,161.17,790.40,162.30,793.28,162.30C796.17,162.30,799.06,160.80,801.94,160.80C804.83,160.80,807.72,164.40,810.60,164.40C813.49,164.40,816.38,160.40,819.26,160.40C822.15,160.40,825.04,163.00,827.92,164.10C830.81,165.20,833.70,167.00,836.58,167.00C839.47,167.00,842.36,166.77,845.24,166.30C848.13,165.83,851.02,162.90,853.90,162.90C856.79,162.90,859.68,163.87,862.56,165.30C865.45,166.73,868.34,171.50,871.22,171.50C874.11,171.50,876.99,168.77,879.88,167.40C882.77,166.03,885.65,163.30,888.54,163.30C891.43,163.30,894.31,171.00,897.20,171.00C900.09,171.00,902.97,170.90,905.86,170.70C908.75,170.50,911.63,163.60,914.52,163.60C917.41,163.60,920.29,165.00,923.18,165.00C926.07,165.00,928.95,162.10,931.84,162.10C934.73,162.10,937.61,163.05,940.50,164.00" fill="none" stroke="#9cdbc3" stroke-width="2.4" stroke-linejoin="round" stroke-linecap="butt"/>
<path d="M100.50,106.60C103.39,105.30,106.27,104.00,109.16,102.60C112.05,101.20,114.93,99.07,117.82,98.20C120.71,97.33,123.59,97.22,126.48,96.90C129.37,96.58,132.25,96.30,135.14,96.30C138.03,96.30,140.91,98.90,143.80,98.90C146.69,98.90,149.57,98.17,152.46,96.90C155.35,95.63,158.23,91.37,161.12,91.30C164.01,91.23,166.89,91.20,169.78,91.20C172.66,91.20,175.55,95.10,178.44,95.10C181.32,95.10,184.21,93.70,187.10,93.70C189.98,93.70,192.87,97.00,195.76,97.00C198.64,97.00,201.53,94.63,204.42,93.90C207.30,93.17,210.19,92.60,213.08,92.60C215.96,92.60,218.85,94.02,221.74,94.80C224.62,95.58,227.51,97.30,230.40,97.30C233.28,97.30,236.17,95.40,239.06,95.40C241.94,95.40,244.83,97.30,247.72,97.30C250.60,97.30,253.49,96.87,256.38,96.00C259.26,95.13,262.15,92.63,265.04,91.30C267.92,89.97,270.81,88.00,273.70,88.00C276.58,88.00,279.47,90.60,282.36,90.60C285.24,90.60,288.13,88.80,291.02,88.80C293.90,88.80,296.79,92.90,299.68,92.90C302.56,92.90,305.45,92.60,308.34,92.60C311.22,92.60,314.11,95.40,316.99,95.40C319.88,95.40,322.77,93.90,325.65,93.50C328.54,93.10,331.43,92.90,334.31,92.90C337.20,92.90,340.09,99.50,342.97,99.50C345.86,99.50,348.75,97.60,351.63,96.70C354.52,95.80,357.41,95.83,360.29,94.10C363.18,92.37,366.07,81.20,368.95,81.20C371.84,81.20,374.73,87.03,377.61,88.80C380.50,90.57,383.39,91.02,386.27,91.80C389.16,92.58,392.05,92.68,394.93,93.50C397.82,94.32,400.71,96.70,403.59,96.70C406.48,96.70,409.37,89.30,412.25,89.30C415.14,89.30,418.03,89.70,420.91,89.70C423.80,89.70,426.69,89.70,429.57,89.70C432.46,89.70,435.35,87.72,438.23,86.50C441.12,85.28,444.01,82.40,446.89,82.40C449.78,82.40,452.66,84.60,455.55,84.60C458.44,84.60,461.32,81.70,464.21,81.70C467.10,81.70,469.98,90.10,472.87,90.10C475.76,90.10,478.64,90.10,481.53,90.10C484.42,90.10,487.30,89.70,490.19,89.70C493.08,89.70,495.96,99.20,498.85,99.20C501.74,99.20,504.62,96.40,507.51,96.40C510.40,96.40,513.28,103.02,516.17,105.50C519.06,107.98,521.94,110.77,524.83,111.30C527.72,111.83,530.60,112.10,533.49,112.10C536.38,112.10,539.26,110.40,542.15,110.40C545.04,110.40,547.92,110.90,550.81,110.90C553.70,110.90,556.58,107.70,559.47,107.70C562.36,107.70,565.24,109.48,568.13,110.40C571.02,111.32,573.90,113.20,576.79,113.20C579.68,113.20,582.56,111.30,585.45,111.30C588.34,111.30,591.22,115.17,594.11,117.00C596.99,118.83,599.88,122.30,602.77,122.30C605.65,122.30,608.54,115.78,611.43,113.80C614.31,111.82,617.20,111.67,620.09,110.40C622.97,109.13,625.86,106.20,628.75,106.20C631.63,106.20,634.52,127.80,637.41,127.80C640.29,127.80,643.18,103.30,646.07,103.30C648.95,103.30,651.84,108.70,654.73,108.70C657.61,108.70,660.50,102.80,663.39,99.20C666.27,95.60,669.16,87.50,672.05,87.10C674.93,86.70,677.82,86.90,680.71,86.50C683.59,86.10,686.48,83.30,689.37,83.30C692.25,83.30,695.14,86.98,698.03,88.40C700.91,89.82,703.80,91.80,706.69,91.80C709.57,91.80,712.46,86.50,715.35,86.50C718.23,86.50,721.12,91.80,724.01,91.80C726.89,91.80,729.78,78.60,732.66,78.60C735.55,78.60,738.44,81.20,741.32,81.20C744.21,81.20,747.10,80.20,749.98,80.20C752.87,80.20,755.76,83.30,758.64,83.30C761.53,83.30,764.42,80.27,767.30,78.90C770.19,77.53,773.08,75.10,775.96,75.10C778.85,75.10,781.74,82.40,784.62,82.40C787.51,82.40,790.40,82.40,793.28,82.40C796.17,82.40,799.06,81.70,801.94,81.70C804.83,81.70,807.72,86.20,810.60,86.20C813.49,86.20,816.38,85.50,819.26,85.50C822.15,85.50,825.04,85.68,827.92,85.90C830.81,86.12,833.70,86.80,836.58,86.80C839.47,86.80,842.36,84.93,845.24,84.20C848.13,83.47,851.02,82.40,853.90,82.40C856.79,82.40,859.68,83.13,862.56,84.20C865.45,85.27,868.34,88.80,871.22,88.80C874.11,88.80,876.99,85.40,879.88,83.90C882.77,82.40,885.65,79.80,888.54,79.80C891.43,79.80,894.31,85.00,897.20,85.60C900.09,86.20,902.97,86.50,905.86,86.50C908.75,86.50,911.63,82.30,914.52,82.30C917.41,82.30,920.29,83.40,923.18,83.40C926.07,83.40,928.95,82.00,931.84,82.00C934.73,82.00,937.61,82.25,940.50,82.50" fill="none" stroke="#c0ecdc" stroke-width="2.4" stroke-linejoin="round" stroke-linecap="butt"/>

<text x="69.5" y="545.2" font-size="13.5" fill="#555" textLength="72" lengthAdjust="spacingAndGlyphs">Source: LSEG</text>
</svg>
</body></html>
